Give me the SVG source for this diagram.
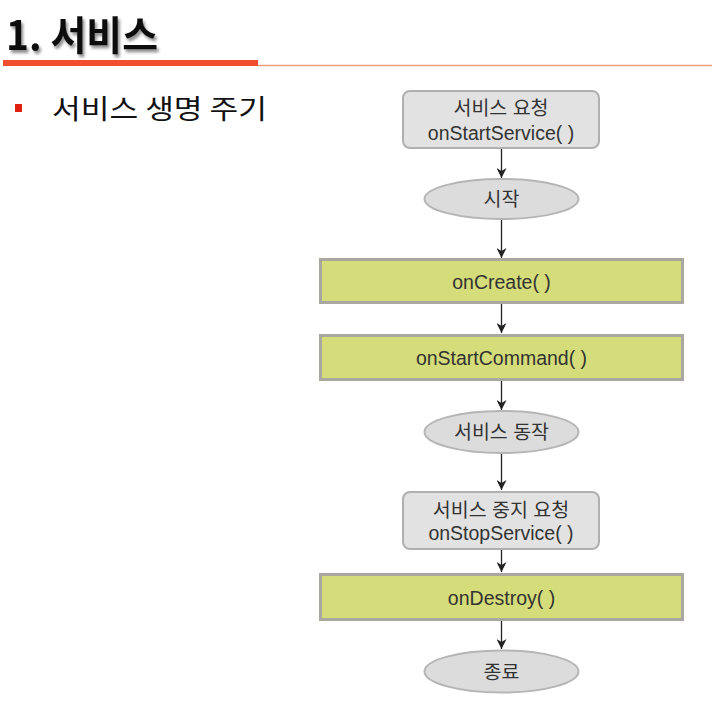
<svg xmlns="http://www.w3.org/2000/svg" width="712" height="706" viewBox="0 0 712 706">
<defs>
<marker id="arr" viewBox="0 0 10 10" refX="10" refY="5" markerWidth="10" markerHeight="10" markerUnits="userSpaceOnUse" orient="auto">
<path d="M0,0 L10,5 L0,10 L3,5 Z" fill="#222"/>
</marker>
<filter id="sh" x="-10%" y="-10%" width="130%" height="140%">
<feGaussianBlur in="SourceAlpha" stdDeviation="1.5"/>
<feOffset dx="2" dy="3" result="b"/>
<feComponentTransfer><feFuncA type="linear" slope="0.45"/></feComponentTransfer>
<feMerge><feMergeNode/><feMergeNode in="SourceGraphic"/></feMerge>
</filter>
</defs>
<style>
text{font-family:"Liberation Sans","Noto Sans CJK KR",sans-serif;fill:#333;text-anchor:middle;}
.k{font-family:"Noto Sans CJK KR",sans-serif;}
.req{fill:#e2e2e2;stroke:#b0b0b0;stroke-width:2;}
.st{fill:#dcdcdc;stroke:#b5b5b5;stroke-width:2;}
.cb{fill:#d5dc7a;stroke:#a8a8a0;stroke-width:3;}
.lbl{font-size:19.5px;}
.conn line{stroke:#222;stroke-width:1.3;}
</style>
<rect width="712" height="706" fill="#ffffff"/>
<g id="header">
<text x="6" y="50" class="k" style="font-size:40px;font-weight:bold;fill:#111;text-anchor:start" textLength="152" lengthAdjust="spacingAndGlyphs" filter="url(#sh)">1. 서비스</text>
<rect x="3" y="60" width="255" height="6" fill="#f04e2e"/>
<line x1="258" y1="65.5" x2="712" y2="65.5" stroke="#e8a080" stroke-width="1.5"/>
<rect x="15" y="104" width="7" height="8" fill="#e02010"/>
<text x="52" y="119" class="k" style="font-size:27px;fill:#111;text-anchor:start" textLength="215" lengthAdjust="spacingAndGlyphs">서비스 생명 주기</text>
</g>
<g class="conn" id="connectors">
<line x1="501.5" y1="148" x2="501.5" y2="178" marker-end="url(#arr)"/>
<line x1="501.5" y1="219" x2="501.5" y2="258" marker-end="url(#arr)"/>
<line x1="501.5" y1="303" x2="501.5" y2="333" marker-end="url(#arr)"/>
<line x1="501.5" y1="380" x2="501.5" y2="410" marker-end="url(#arr)"/>
<line x1="501.5" y1="453" x2="501.5" y2="490" marker-end="url(#arr)"/>
<line x1="501.5" y1="549" x2="501.5" y2="572" marker-end="url(#arr)"/>
<line x1="501.5" y1="620" x2="501.5" y2="649" marker-end="url(#arr)"/>
</g>
<g id="n1">
<rect class="req" x="403" y="91" width="196" height="57" rx="7"/>
<text x="501" y="115" class="lbl">서비스 요청</text>
<text x="501" y="140" class="lbl">onStartService( )</text>
</g>
<g id="n2">
<ellipse class="st" cx="501.5" cy="199" rx="77" ry="20"/>
<text x="501.5" y="206" class="lbl">시작</text>
</g>
<g id="n3">
<rect class="cb" x="320.5" y="259.5" width="362" height="43"/>
<text x="501.5" y="289" class="lbl">onCreate( )</text>
</g>
<g id="n4">
<rect class="cb" x="320.5" y="335.5" width="362" height="44"/>
<text x="501.5" y="365" class="lbl">onStartCommand( )</text>
</g>
<g id="n5">
<ellipse class="st" cx="501.5" cy="432" rx="77" ry="21"/>
<text x="501.5" y="439" class="lbl">서비스 동작</text>
</g>
<g id="n6">
<rect class="req" x="403" y="492" width="196" height="57" rx="7"/>
<text x="501" y="517" class="lbl">서비스 중지 요청</text>
<text x="501" y="540" class="lbl">onStopService( )</text>
</g>
<g id="n7">
<rect class="cb" x="320.5" y="574.5" width="362" height="45"/>
<text x="501.5" y="605" class="lbl">onDestroy( )</text>
</g>
<g id="n8">
<ellipse class="st" cx="501.5" cy="671.5" rx="77" ry="21"/>
<text x="501.5" y="678.5" class="lbl">종료</text>
</g>
</svg>
